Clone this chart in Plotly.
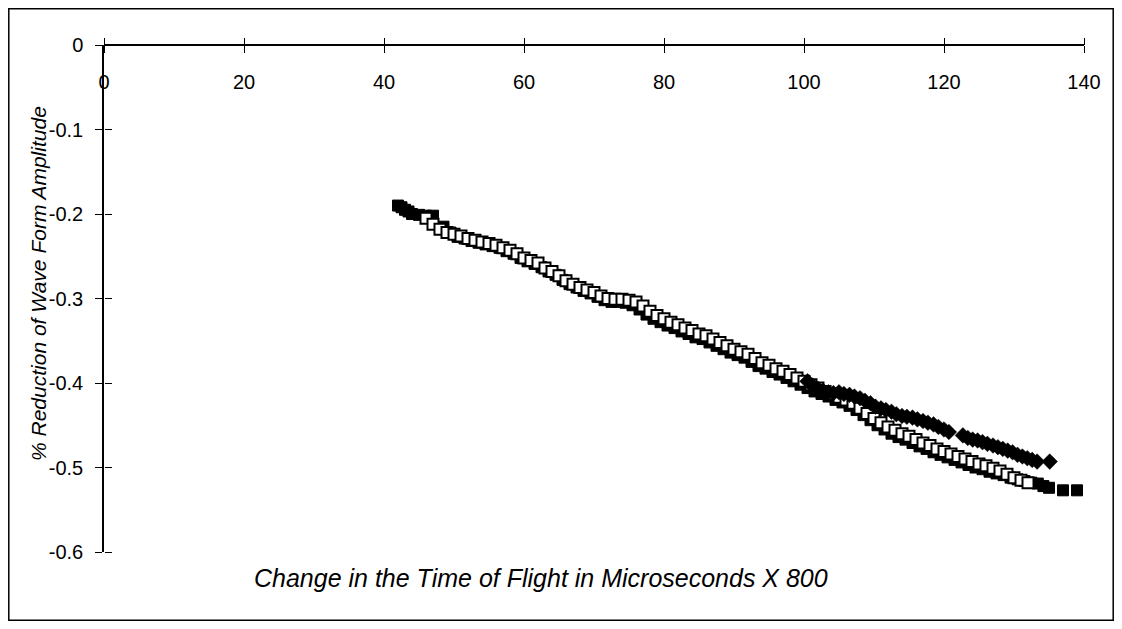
import plotly.graph_objects as go

# ---- data ----
filled_sq_x = [42, 42.5, 43, 43.5, 44, 45, 46, 47, 48.5, 49.5, 50.5, 51.5, 52.5, 53.5, 54.5, 55.5,
               56.5, 57.5, 58.5, 59.5, 60.5, 61.5, 62.5, 63.5, 64.5, 65.5, 66.5, 67.5, 68.5, 69.5,
               70.5, 71.5, 72.5, 73.5, 74.5, 75.5, 76.5, 77.5, 78.5, 79.5, 80.5, 81.5, 82.5, 83.5,
               84.5, 85.5, 86.5, 87.5, 88.5, 89.5, 90.5, 91.5, 92.5, 93.5, 94.5, 95.5, 96.5, 97.5,
               98.5, 99.5, 100.5, 101.5, 102.5, 103.5, 104.5, 105.5, 106.5, 107.5, 108.5, 109.5,
               110.5, 111.5, 112.5, 113.5, 114.5, 115.5, 116.5, 117.5, 118.5, 119.5, 120.5, 121.5,
               122.5, 123.5, 124.5, 125.5, 126.5, 127.5, 128.5, 129.5, 130.5, 131.5, 132.5, 133.4,
               134.2, 135, 137, 139]
filled_sq_y = [-0.190, -0.192, -0.195, -0.197, -0.200, -0.201, -0.202, -0.202, -0.215, -0.222,
               -0.227, -0.229, -0.232, -0.234, -0.236, -0.238, -0.240, -0.244, -0.247, -0.252,
               -0.256, -0.259, -0.263, -0.268, -0.272, -0.278, -0.283, -0.287, -0.291, -0.294,
               -0.298, -0.302, -0.304, -0.304, -0.305, -0.308, -0.313, -0.319, -0.324, -0.328,
               -0.332, -0.335, -0.339, -0.342, -0.346, -0.348, -0.352, -0.356, -0.360, -0.364,
               -0.367, -0.370, -0.375, -0.380, -0.383, -0.387, -0.390, -0.394, -0.398, -0.402,
               -0.406, -0.410, -0.413, -0.416, -0.420, -0.423, -0.427, -0.432, -0.438, -0.444,
               -0.450, -0.455, -0.460, -0.464, -0.467, -0.471, -0.475, -0.478, -0.482, -0.485,
               -0.488, -0.491, -0.494, -0.497, -0.500, -0.502, -0.505, -0.507, -0.509, -0.512,
               -0.514, -0.516, -0.518, -0.519, -0.522, -0.524, -0.527, -0.527]

open_sq_x = [46, 47, 48, 49, 50, 51, 52, 53, 54, 55, 56, 57, 58, 59, 60, 61, 62, 63, 64, 65, 66,
             67, 68, 69, 70, 71, 72, 73, 74, 75, 76, 77, 78, 79, 80, 81, 82, 83, 84, 85, 86, 87,
             88, 89, 90, 91, 92, 93, 94, 95, 96, 97, 98, 99, 100, 101, 102, 103, 104, 105, 106,
             107, 108, 109, 110, 111, 112, 113, 114, 115, 116, 117, 118, 119, 120, 121, 122, 123,
             124, 125, 126, 127, 128, 129, 130, 131, 132]
open_sq_y = [-0.205, -0.212, -0.218, -0.222, -0.224, -0.226, -0.229, -0.231, -0.233, -0.235,
             -0.237, -0.240, -0.243, -0.247, -0.252, -0.255, -0.258, -0.264, -0.268, -0.273,
             -0.279, -0.283, -0.287, -0.290, -0.293, -0.297, -0.300, -0.301, -0.301, -0.302,
             -0.304, -0.309, -0.315, -0.320, -0.324, -0.328, -0.331, -0.335, -0.338, -0.342,
             -0.344, -0.348, -0.352, -0.356, -0.360, -0.363, -0.366, -0.371, -0.376, -0.379,
             -0.383, -0.386, -0.390, -0.394, -0.398, -0.402, -0.406, -0.410, -0.413, -0.417,
             -0.420, -0.424, -0.430, -0.436, -0.442, -0.447, -0.452, -0.456, -0.460, -0.463,
             -0.467, -0.471, -0.474, -0.478, -0.481, -0.484, -0.487, -0.490, -0.493, -0.496,
             -0.498, -0.501, -0.504, -0.508, -0.512, -0.515, -0.518]

diamond_x = [100.5, 101.2, 102, 102.7, 103.5, 104.2, 105, 105.7, 106.5, 107.2, 108, 108.7, 109.5,
             110.2, 111, 111.7, 112.5, 113.2, 114, 114.7, 115.5, 116.2, 117, 117.7, 118.5, 119.2,
             120, 120.7, 122.7, 123.4, 124.1, 124.8, 125.5, 126.2, 127, 127.7, 128.4, 129.1,
             129.8, 130.5, 131.2, 131.9, 132.6, 133.3, 135.1]
diamond_y = [-0.398, -0.403, -0.407, -0.409, -0.411, -0.412, -0.411, -0.413, -0.414, -0.416,
             -0.418, -0.421, -0.424, -0.428, -0.430, -0.432, -0.434, -0.437, -0.439, -0.440,
             -0.441, -0.443, -0.445, -0.447, -0.449, -0.452, -0.455, -0.458, -0.462, -0.465,
             -0.467, -0.468, -0.470, -0.472, -0.474, -0.476, -0.478, -0.480, -0.482, -0.485,
             -0.487, -0.489, -0.491, -0.493, -0.493]

x_ticks = [0, 20, 40, 60, 80, 100, 120, 140]
y_ticks = [0, -0.1, -0.2, -0.3, -0.4, -0.5, -0.6]
y_tick_text = ["0", "-0.1", "-0.2", "-0.3", "-0.4", "-0.5", "-0.6"]
x_title = "Change in the Time of Flight in Microseconds X 800"
y_title = "% Reduction of Wave Form Amplitude"

FONT = "Liberation Sans, Arial, sans-serif"

# figure is offset by the page's 8px body margin
W, H = 1106, 613
L, T = 96, 37
PW, PH = 980, 507
R = W - L - PW
B = H - T - PH

fig = go.Figure()
fig.add_trace(go.Scatter(x=filled_sq_x, y=filled_sq_y, mode="markers",
                         marker=dict(symbol="square", size=11, color="black",
                                     line=dict(color="black", width=1))))
fig.add_trace(go.Scatter(x=open_sq_x, y=open_sq_y, mode="markers",
                         marker=dict(symbol="square", size=11, color="white",
                                     line=dict(color="black", width=2))))
fig.add_trace(go.Scatter(x=diamond_x, y=diamond_y, mode="markers",
                         marker=dict(symbol="diamond", size=12, color="black",
                                     line=dict(color="black", width=0.5))))

tick_font = dict(family=FONT, size=20, color="black")


def px(xf):
    return (xf - L) / PW


def py(yf):
    return (T + PH - yf) / PH


fig.update_layout(
    width=W, height=H,
    margin=dict(l=L, r=R, t=T, b=B, pad=0),
    paper_bgcolor="white", plot_bgcolor="white",
    showlegend=False,
    xaxis=dict(range=[0, 140], anchor="free", position=1, side="bottom",
               showgrid=False, zeroline=False, showline=True, linecolor="black", linewidth=1.5,
               ticks="outside", ticklen=7, tickwidth=1.3, tickcolor="black",
               tickvals=x_ticks, ticktext=[str(v) for v in x_ticks],
               tickfont=tick_font, ticklabelstandoff=12),
    xaxis2=dict(range=[0, 140], overlaying="x", anchor="free", position=1, side="top",
                showgrid=False, zeroline=False, showline=False,
                ticks="outside", ticklen=7, tickwidth=1.3, tickcolor="black",
                tickvals=x_ticks, showticklabels=False),
    yaxis=dict(range=[-0.6, 0], side="left",
               showgrid=False, zeroline=False, showline=True, linecolor="black", linewidth=1.5,
               ticks="outside", ticklen=7, tickwidth=1.3, tickcolor="black",
               tickvals=y_ticks, ticktext=y_tick_text,
               tickfont=tick_font, ticklabelstandoff=8),
    yaxis2=dict(range=[-0.6, 0], overlaying="y", anchor="free", position=0, side="right",
                showgrid=False, zeroline=False, showline=False,
                ticks="outside", ticklen=7, tickwidth=1.3, tickcolor="black",
                tickvals=y_ticks, showticklabels=False),
    annotations=[
        dict(text=x_title, xref="paper", yref="paper", x=px(541 - 8), y=py(578 - 8),
             showarrow=False, font=dict(family=FONT, size=25, color="black", style="italic"),
             xanchor="center", yanchor="middle"),
        dict(text=y_title, xref="paper", yref="paper", x=px(38 - 8), y=py(284 - 8),
             showarrow=False, textangle=-90,
             font=dict(family=FONT, size=21, color="black", style="italic"),
             xanchor="center", yanchor="middle"),
    ],
    shapes=[dict(type="rect", xref="paper", yref="paper",
                 x0=px(0.8), x1=px(W - 0.8),
                 y0=py(H - 0.8), y1=py(0.8),
                 line=dict(color="black", width=1.5), fillcolor="rgba(0,0,0,0)", layer="below")],
)

# dummy trace to activate overlay axes
fig.add_trace(go.Scatter(x=[None], y=[None], xaxis="x2", yaxis="y2", showlegend=False,
                         hoverinfo="skip"))

fig.write_html("out.html")
